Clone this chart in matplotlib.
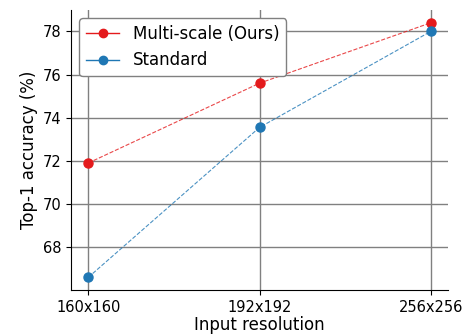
import matplotlib
matplotlib.use('Agg')
import matplotlib.pyplot as plt
from matplotlib.lines import Line2D

resolutions = ['160x160', '192x192', '256x256']
multi_scale = [71.9, 75.6, 78.4]
standard = [66.6, 73.55, 78.0]

red = '#e41a1c'
blue = '#1f77b4'

fig = plt.figure(figsize=(4.71, 3.35), dpi=100)
ax = fig.add_axes([0.151, 0.134, 0.80, 0.836])

x = range(len(resolutions))
ax.plot(x, multi_scale, '--', color=red, linewidth=0.8, alpha=0.8)
ax.plot(x, multi_scale, 'o', color=red, markersize=6.5, zorder=3)
ax.plot(x, standard, '--', color=blue, linewidth=0.8, alpha=0.8)
ax.plot(x, standard, 'o', color=blue, markersize=6.5, zorder=3)

ax.set_xticks(list(x))
ax.set_xticklabels(resolutions)
ax.set_yticks([68, 70, 72, 74, 76, 78])
ax.grid(True, color='#808080', linewidth=1)
ax.set_axisbelow(True)
ax.spines['top'].set_visible(False)
ax.spines['right'].set_visible(False)

ax.set_xlabel('Input resolution', fontsize=12, labelpad=1)
ax.set_ylabel('Top-1 accuracy (%)', fontsize=12, labelpad=3)
ax.tick_params(labelsize=10.5)

handles = [Line2D([0], [0], color=red, marker='o', linewidth=1),
           Line2D([0], [0], color=blue, marker='o', linewidth=1)]
ax.legend(handles, ['Multi-scale (Ours)', 'Standard'], loc='upper left',
          fontsize=12, framealpha=1, edgecolor='#808080')

fig.savefig('out.png', dpi=100)
